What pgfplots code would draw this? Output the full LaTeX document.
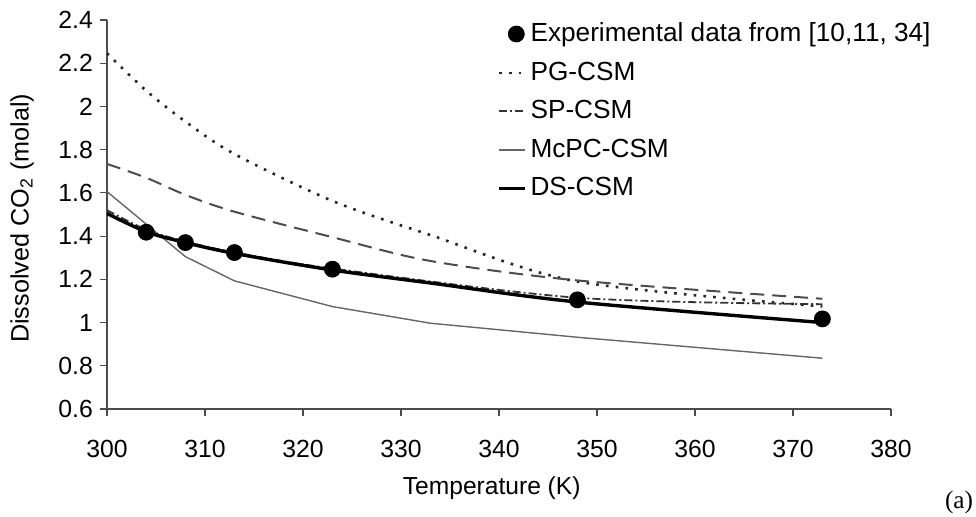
\documentclass[border=0pt]{standalone}
\usepackage{fontspec}
\setmainfont{Liberation Sans}
\newfontfamily\seriffont{Liberation Serif}
\usepackage{pgfplots}
\pgfplotsset{compat=1.18}
\pgfplotsset{shortleg/.style={legend image code/.code={\draw[##1] (0cm,0cm) -- (0.45cm,0cm);}}}
\begin{document}
\begin{tikzpicture}
\useasboundingbox (0,0) rectangle (488pt,258pt);
\begin{axis}[
  at={(53.5pt,53.5pt)}, anchor=south west,
  scale only axis, width=392pt, height=194.5pt,
  xmin=300, xmax=380, ymin=0.6, ymax=2.4,
  xtick={300,310,320,330,340,350,360,370,380},
  ytick={0.6,0.8,1,1.2,1.4,1.6,1.8,2,2.2,2.4},
  axis lines=left, axis line style={-, draw=black!70, line width=0.6pt},
  tick align=outside, tick style={draw=black!70, line width=0.6pt}, major tick length=3.5pt,
  /pgf/number format/assume math mode=true,
  tick label style={font=\fontsize{12.4}{14}\selectfont},
  yticklabel style={/pgf/number format/fixed, /pgf/number format/precision=1},
  xticklabel style={/pgf/number format/fixed, /pgf/number format/1000 sep={}, yshift=-8.5pt},
  xlabel={Temperature (K)},
  ylabel={Dissolved CO\textsubscript{2} (molal)},
  xlabel style={at={(axis description cs:0.4907,-0.203)}, anchor=center, font=\fontsize{12.3}{14}\selectfont},
  ylabel style={at={(axis description cs:-0.1084,0.49)}, anchor=center, font=\fontsize{12.6}{14}\selectfont},
  legend style={at={(axis cs:339.2,2.425)}, anchor=north west, draw=none, fill=none,
    font=\fontsize{13.1}{15}\selectfont, row sep=4.6pt},
  legend cell align=left,
]
\addlegendimage{only marks, mark=*, mark size=4pt, black}
\addlegendentry{Experimental data from [10,11, 34]}

% PG-CSM (dotted, top)
\addplot[smooth, draw=black!85, line width=1.3pt, dash pattern=on 1.3pt off 3.6pt, shortleg]
  coordinates {(300,2.246) (304,2.073) (308,1.93) (313,1.78) (323,1.563) (333,1.405) (348,1.19) (373,1.075)};
\addlegendentry{PG-CSM}

% SP-CSM (dash-dot)
\addplot[smooth, draw=black!80, line width=0.9pt, dash pattern=on 4pt off 1.5pt on 1pt off 1.5pt, shortleg]
  coordinates {(300,1.52) (304,1.43) (308,1.375) (313,1.325) (323,1.25) (348,1.115) (373,1.085)};
\addlegendentry{SP-CSM}

% McPC-CSM (thin solid)
\addplot[draw=black!60, line width=0.7pt, shortleg]
  coordinates {(300,1.606) (308,1.305) (313,1.193) (323,1.074) (333,0.997) (348,0.932) (373,0.835)};
\addlegendentry{McPC-CSM}

% DS-CSM (thick solid)
\addplot[smooth, draw=black, line width=1.7pt, shortleg]
  coordinates {(300,1.505) (304,1.42) (308,1.37) (313,1.32) (323,1.243) (333,1.183) (348,1.095) (373,1.0)};
\addlegendentry{DS-CSM}

% long dashed curve (no legend entry)
\addplot[forget plot, smooth, draw=black!70, line width=1pt, dash pattern=on 7pt off 4pt]
  coordinates {(300,1.734) (304,1.67) (308,1.591) (313,1.513) (323,1.395) (333,1.285) (348,1.195) (373,1.11)};

% experimental data
\addplot[forget plot, only marks, mark=*, mark size=4pt, black]
  coordinates {(304,1.418) (308,1.37) (313,1.324) (323,1.247) (348,1.105) (373,1.017)};
\end{axis}
\node[font=\seriffont\fontsize{12.6}{14}\selectfont, inner sep=1pt] at (479.5pt,7pt) {(a)};
\end{tikzpicture}
\end{document}
